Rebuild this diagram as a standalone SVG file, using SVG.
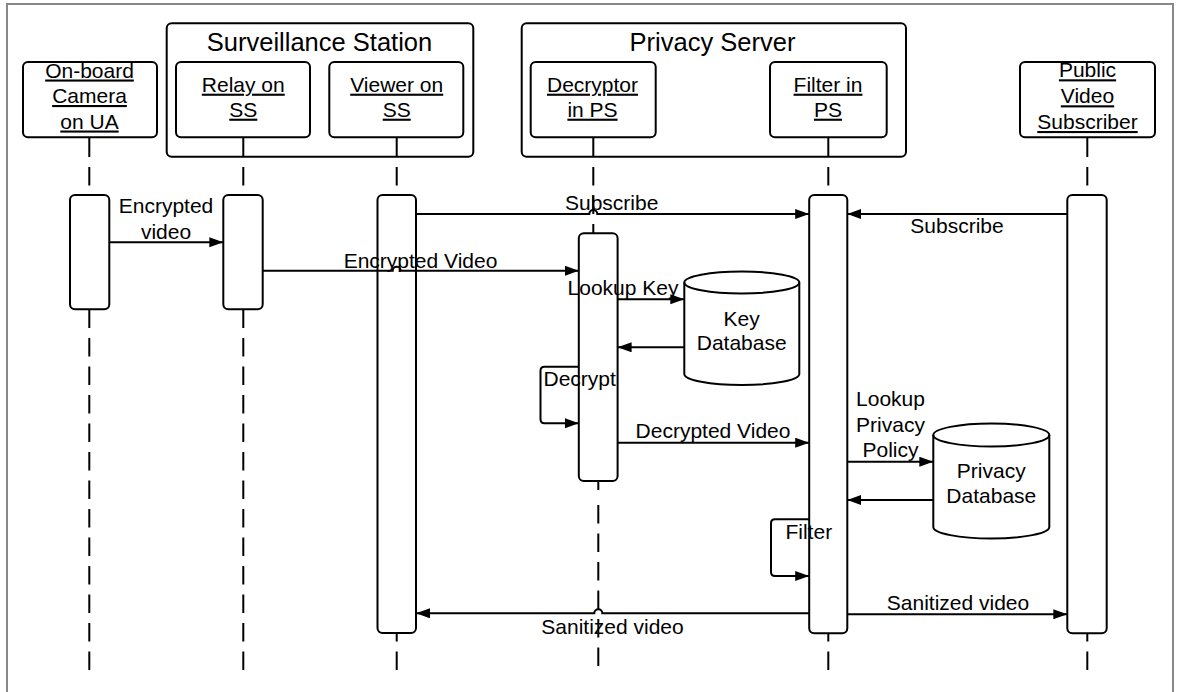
<svg xmlns="http://www.w3.org/2000/svg" width="1178" height="692" viewBox="0 0 1178 692">
<style>
text{font-family:"Liberation Sans",Arial,sans-serif;font-size:21px;fill:#000;text-anchor:middle}
.title{font-size:25.5px}
.u{text-decoration:underline}
.box{fill:#fff;stroke:#000;stroke-width:2}
.act{fill:#fff;stroke:#000;stroke-width:2}
.life{stroke:#000;stroke-width:2;fill:none}
.dash{stroke:#000;stroke-width:2;fill:none;stroke-dasharray:18.5 10}
.msg{stroke:#000;stroke-width:2;fill:none}
.arr{marker-end:url(#ah)}
</style>
<defs>
<marker id="ah" markerUnits="userSpaceOnUse" markerWidth="15" markerHeight="11" refX="14" refY="5" orient="auto">
<path d="M0,0 L14,5 L0,10 Z" fill="#000"/>
</marker>
</defs>
<rect x="7" y="4" width="1166" height="700" fill="#fff" stroke="#888" stroke-width="2"/>

<g id="lifelines">
<path class="life" d="M89.3,137.3V157 M243.3,157V157 M396.7,157V157 M593.3,137.3V157 M828.3,157V157 M1087.3,137.3V157"/>
<path class="life" d="M243.3,137.3V157 M396.7,137.3V157 M828.3,137.3V157"/>
<path class="dash" d="M89.3,167V670 M243.3,167V670 M396.7,167V670 M828.3,167V670 M1087.3,167V670"/>
<path class="dash" d="M593.3,167V233"/>
<path class="life" d="M598.3,481V490 M598.3,505V523.5 M598.3,533.5V552 M598.3,562V580.5 M598.3,590.5V609 M598.3,619V637.5 M598.3,647.5V666"/>
</g>

<g id="surveillance-station">
<rect class="box" x="166.7" y="23.3" width="306.6" height="133.4" rx="5" fill="none" style="fill:none"/>
<text class="title" x="319.5" y="50.5">Surveillance Station</text>
</g>
<g id="privacy-server">
<rect class="box" x="521.7" y="23.3" width="384.3" height="133.4" rx="5" style="fill:none"/>
<text class="title" x="712.5" y="50.7">Privacy Server</text>
</g>

<g id="camera">
<rect class="box" x="23" y="62" width="134" height="75.3" rx="5"/>
<text class="u" x="89.5" y="77.5">On-board</text>
<text class="u" x="89.5" y="103">Camera</text>
<text class="u" x="89.5" y="128.5">on UA</text>
</g>
<g id="relay">
<rect class="box" x="176" y="62" width="134" height="75.3" rx="5"/>
<text class="u" x="243.3" y="91.7">Relay on</text>
<text class="u" x="243.3" y="116.7">SS</text>
</g>
<g id="viewer">
<rect class="box" x="329.3" y="62" width="134" height="75.3" rx="5"/>
<text class="u" x="396.7" y="91.7">Viewer on</text>
<text class="u" x="396.7" y="116.7">SS</text>
</g>
<g id="decryptor">
<rect class="box" x="530.7" y="62" width="125" height="75.3" rx="5"/>
<text class="u" x="592.5" y="91.7">Decryptor</text>
<text class="u" x="592.5" y="116.7">in PS</text>
</g>
<g id="filter">
<rect class="box" x="770" y="62" width="116.7" height="75.3" rx="5"/>
<text class="u" x="828" y="91.7">Filter in</text>
<text class="u" x="828" y="116.7">PS</text>
</g>
<g id="public">
<rect class="box" x="1020" y="62" width="135" height="75.3" rx="5"/>
<text class="u" x="1087.5" y="77.3">Public</text>
<text class="u" x="1087.5" y="103.3">Video</text>
<text class="u" x="1087.5" y="129">Subscriber</text>
</g>

<g id="activations">
<rect class="act" x="70" y="195" width="39.3" height="114.3" rx="5"/>
<rect class="act" x="223.3" y="195" width="39.4" height="114.3" rx="5"/>
<rect class="act" x="377.5" y="195" width="38.5" height="438" rx="5"/>
<rect class="act" x="578.8" y="233.3" width="38.8" height="247.7" rx="5"/>
<rect class="act" x="809.2" y="195" width="38.1" height="438.3" rx="5"/>
<rect class="act" x="1067.3" y="195" width="39.4" height="438.3" rx="5"/>
</g>

<g id="key-database">
<path class="box" d="M684.3,282.5 A57.5,11 0 0 1 799.3,282.5 V374 A57.5,11 0 0 1 684.3,374 Z"/>
<path class="msg" d="M684.3,282.5 A57.5,11 0 0 0 799.3,282.5"/>
<text x="741.7" y="325.7">Key</text>
<text x="741.7" y="350">Database</text>
</g>
<g id="privacy-database">
<path class="box" d="M933.3,435 A58,11.5 0 0 1 1049.3,435 V527 A58,11.5 0 0 1 933.3,527 Z"/>
<path class="msg" d="M933.3,435 A58,11.5 0 0 0 1049.3,435"/>
<text x="991.3" y="478.3">Privacy</text>
<text x="991.3" y="502.7">Database</text>
</g>

<g id="connectors">
<path class="msg arr" d="M109.3,242.3H223.3"/>
<path class="msg arr" d="M262.7,270.7H392.7 a4,4 0 0 1 8,0 H578.8"/>
<path class="msg arr" d="M416,214H589.3 a4,4 0 0 1 8,0 H809.2"/>
<path class="msg arr" d="M1067.3,214H847.3"/>
<path class="msg arr" d="M617.6,299.3H684.3"/>
<path class="msg arr" d="M684.3,347.3H617.6"/>
<path class="msg arr" d="M578.8,366.7H544.5 q-4,0 -4,4 V419.3 q0,4 4,4 H578.8"/>
<path class="msg arr" d="M617.6,442.7H809.2"/>
<path class="msg arr" d="M847.3,461.7H933.3"/>
<path class="msg arr" d="M933.3,500H847.3"/>
<path class="msg arr" d="M809.2,519.3H775 q-4,0 -4,4 V572 q0,4 4,4 H809.2"/>
<path class="msg arr" d="M847.3,614.3H1067.3"/>
<path class="msg arr" d="M809.2,613.3H602.3 a4,4 0 0 0 -8,0 H416"/>
</g>

<g id="labels">
<text x="166" y="213.3">Encrypted</text>
<text x="166" y="239">video</text>
<text x="420.5" y="268">Encrypted Video</text>
<text x="611.7" y="210">Subscribe</text>
<text x="957" y="233.3">Subscribe</text>
<text x="623" y="295">Lookup Key</text>
<text x="579.7" y="385.7">Decrypt</text>
<text x="713" y="438.3">Decrypted Video</text>
<text x="890.5" y="406">Lookup</text>
<text x="890.5" y="431.7">Privacy</text>
<text x="890.5" y="456.7">Policy</text>
<text x="808.8" y="539.3">Filter</text>
<text x="958" y="610">Sanitized video</text>
<text x="612.5" y="634">Sanitized video</text>
</g>
</svg>
